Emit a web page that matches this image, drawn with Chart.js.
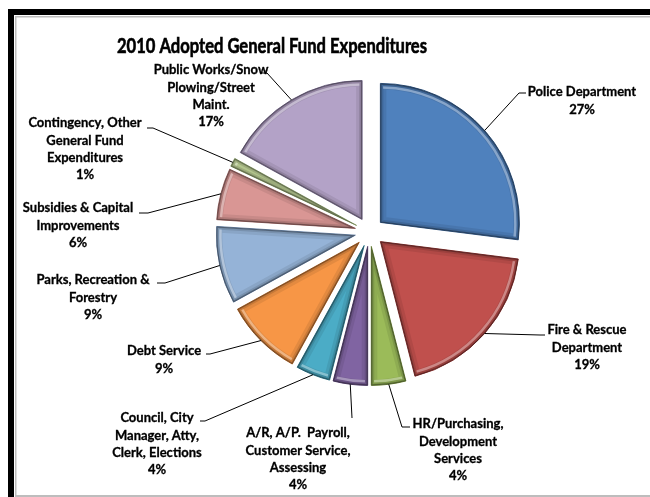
<!DOCTYPE html>
<html>
<head>
<meta charset="utf-8">
<title>2010 Adopted General Fund Expenditures</title>
<script src="https://cdn.jsdelivr.net/npm/chart.js@4"></script>
<style>
  html, body { margin: 0; padding: 0; background: #fff; }
  canvas { display: block; }
</style>
</head>
<body>
<canvas id="fundChart" width="650" height="497"></canvas>
<script>
// Expenditure categories (one entry per label line) and share of the fund in percent
var categories = [
    ["Police Department"],
    ["Fire & Rescue", "Department"],
    ["HR/Purchasing,", "Development", "Services"],
    ["A/R, A/P.  Payroll,", "Customer Service,", "Assessing"],
    ["Council, City", "Manager, Atty,", "Clerk, Elections"],
    ["Debt Service"],
    ["Parks, Recreation &", "Forestry"],
    ["Subsidies & Capital", "Improvements"],
    ["Contingency, Other", "General Fund", "Expenditures"],
    ["Public Works/Snow", "Plowing/Street", "Maint."]
];
var shares = [27, 19, 4, 4, 4, 9, 9, 6, 1, 17];

var sliceColors = [
    "#4f81bd", "#c0504d", "#9bbb59", "#8064a2", "#4bacc6",
    "#f79646", "#95b3d7", "#d99694", "#c3d69b", "#b3a2c7"
];
var sliceBorders = [
    "#385d8a", "#8c3836", "#71893f", "#5c4776", "#357d91",
    "#b66d31", "#6f89ab", "#a36d6b", "#8fa270", "#857899"
];

// where each data label sits: text centre x, first line y, and the leader elbow / end
var labelLayout = [
    { x: 582, y: 92,  elbow: [519, 93],  end: [526, 93] },
    { x: 587, y: 330, elbow: [540, 335], end: [545, 335] },
    { x: 458, y: 424, elbow: [402, 427], end: [410, 427] },
    { x: 298, y: 433, elbow: [352, 418], end: [352, 418] },
    { x: 157, y: 418, elbow: [205, 421], end: [200, 421] },
    { x: 164, y: 351, elbow: [210, 354], end: [206, 354] },
    { x: 93,  y: 280, elbow: [165, 283], end: [157, 283] },
    { x: 78,  y: 208, elbow: [148, 213], end: [139, 213] },
    { x: 85,  y: 123, elbow: [153, 128], end: [147, 128] },
    { x: 211, y: 70,  elbow: [267, 73],  end: [260, 73] }
];

var EXPLODE = 14.5;
var LINE_HEIGHT = 17.4;
var LABEL_FONT = "bold 13px Lato, 'Open Sans', sans-serif";

// white sheet with the black frame round it
var framePlugin = {
    id: 'frame',
    beforeDraw: function (chart) {
        var ctx = chart.ctx;
        ctx.save();
        ctx.fillStyle = '#ffffff';
        ctx.fillRect(0, 0, chart.width, chart.height);
        ctx.fillStyle = '#000000';
        ctx.fillRect(8, 9, 6, chart.height - 9);
        ctx.fillRect(8, 9, chart.width - 8, 6);
        ctx.fillStyle = '#bdbdbd';
        ctx.fillRect(15, 16, chart.width - 15, 1.5);
        ctx.fillRect(15, 16, 1.5, chart.height - 16);
        ctx.fillRect(15, 495, chart.width - 15, 2);
        ctx.restore();
    }
};

// pull every slice out from the centre along its bisector
var explodePlugin = {
    id: 'explode',
    afterDatasetUpdate: function (chart, args) {
        args.meta.data.forEach(function (arc) {
            var mid = (arc.startAngle + arc.endAngle) / 2;
            arc.x += Math.cos(mid) * EXPLODE;
            arc.y += Math.sin(mid) * EXPLODE;
        });
    }
};

// bevelled rim on each slice
var bevelPlugin = {
    id: 'bevel',
    afterDatasetsDraw: function (chart) {
        var ctx = chart.ctx;
        chart.getDatasetMeta(0).data.forEach(function (arc) {
            var r = arc.outerRadius;
            ctx.save();
            ctx.beginPath();
            ctx.moveTo(arc.x, arc.y);
            ctx.arc(arc.x, arc.y, r, arc.startAngle, arc.endAngle);
            ctx.closePath();
            ctx.clip();

            ctx.lineJoin = 'round';
            ctx.strokeStyle = 'rgba(0,0,0,0.08)';
            ctx.lineWidth = 12;
            ctx.stroke();
            ctx.strokeStyle = 'rgba(0,0,0,0.12)';
            ctx.lineWidth = 6;
            ctx.stroke();
            ctx.strokeStyle = 'rgba(0,0,0,0.28)';
            ctx.lineWidth = 2.5;
            ctx.stroke();

            ctx.beginPath();
            ctx.arc(arc.x, arc.y, r - 4, arc.startAngle + 0.02, arc.endAngle - 0.02);
            ctx.strokeStyle = 'rgba(255,255,255,0.35)';
            ctx.lineWidth = 2.5;
            ctx.stroke();
            ctx.restore();
        });
    }
};

// title, leader lines and category / percent labels
var labelPlugin = {
    id: 'sliceLabels',
    afterDraw: function (chart) {
        var ctx = chart.ctx;
        var arcs = chart.getDatasetMeta(0).data;
        ctx.save();

        ctx.fillStyle = '#000000';
        ctx.strokeStyle = '#000000';
        ctx.textAlign = 'center';
        ctx.textBaseline = 'middle';
        ctx.font = "bold 20px Lato, 'Open Sans', sans-serif";
        ctx.lineWidth = 0.6;
        ctx.fillText('2010 Adopted General Fund Expenditures', 272, 47, 310);
        ctx.strokeText('2010 Adopted General Fund Expenditures', 272, 47, 310);

        ctx.font = LABEL_FONT;
        arcs.forEach(function (arc, i) {
            var pos = labelLayout[i];
            var mid = (arc.startAngle + arc.endAngle) / 2;
            var sx = arc.x + Math.cos(mid) * arc.outerRadius;
            var sy = arc.y + Math.sin(mid) * arc.outerRadius;

            ctx.beginPath();
            ctx.moveTo(sx, sy);
            ctx.lineTo(pos.elbow[0], pos.elbow[1]);
            ctx.lineTo(pos.end[0], pos.end[1]);
            ctx.lineWidth = 1;
            ctx.stroke();

            var lines = categories[i].concat([shares[i] + '%']);
            ctx.lineWidth = 0.3;
            lines.forEach(function (line, k) {
                ctx.fillText(line, pos.x, pos.y + k * LINE_HEIGHT);
                ctx.strokeText(line, pos.x, pos.y + k * LINE_HEIGHT);
            });
        });
        ctx.restore();
    }
};

var ctxFund = document.getElementById('fundChart').getContext('2d');
var fundChart = new Chart(ctxFund, {
    type: 'pie',
    data: {
        labels: categories.map(function (c) { return c.join(' '); }),
        datasets: [{
            data: shares,
            backgroundColor: sliceColors,
            borderColor: sliceBorders,
            borderWidth: 1
        }]
    },
    options: {
        responsive: false,
        animation: false,
        events: [],
        radius: 139,
        layout: { padding: { left: 100, right: 11, top: 40, bottom: 73 } },
        plugins: {
            legend: { display: false },
            tooltip: { enabled: false },
            title: { display: false }
        }
    },
    plugins: [framePlugin, explodePlugin, bevelPlugin, labelPlugin]
});
</script>
</body>
</html>
